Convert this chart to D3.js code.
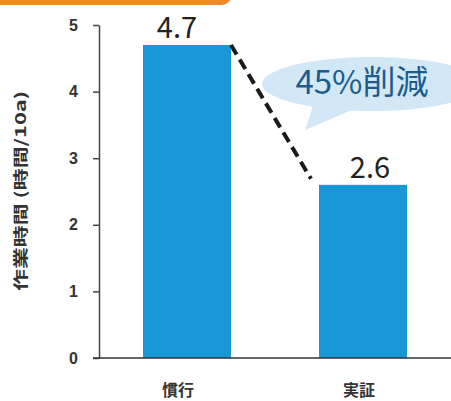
<!DOCTYPE html>
<html>
<head>
<meta charset="utf-8">
<script src="https://cdn.jsdelivr.net/npm/d3@7"></script>
<style>
  html, body { margin: 0; padding: 0; background: #fff; }
  svg { display: block; }
</style>
</head>
<body>
<svg id="chart" width="451" height="401"></svg>
<script>
// Work hours per 10a: conventional vs. demonstration
const categories = ["慣行", "実証"];
const values = [4.7, 2.6];
const valueLabels = ["4.7", "2.6"];
const yTicks = [0, 1, 2, 3, 4, 5];
const yTitle = "作業時間 (時間/10a)";
const calloutText = "45%削減";

const svg = d3.select("#chart");
const W = 451, H = 401;

const x = d3.scaleBand()
  .domain(categories)
  .range([99, 451])
  .paddingInner(0.5)
  .paddingOuter(0.25);

const y = d3.scaleLinear()
  .domain([0, 5])
  .range([358, 25]);

// orange header strip at the top
svg.append("path")
  .attr("d", "M0,-20 H232 V-6 A11,11 0 0 1 221,5 H0 Z")
  .attr("fill", "#f28a2b");

// bars
svg.append("g").selectAll("rect")
  .data(values)
  .join("rect")
  .attr("x", (d, i) => x(categories[i]))
  .attr("y", d => y(d))
  .attr("width", x.bandwidth())
  .attr("height", d => y(0) - y(d))
  .attr("fill", "#1a98d5");

// value labels
const nudge = [-10, 7];
svg.append("g").selectAll("text")
  .data(values)
  .join("text")
  .attr("x", (d, i) => x(categories[i]) + x.bandwidth() / 2 + nudge[i])
  .attr("y", d => y(d) - 7)
  .attr("text-anchor", "middle")
  .attr("font-family", "'Noto Sans CJK JP', 'Noto Sans', sans-serif")
  .attr("font-size", 29)
  .attr("fill", "#222")
  .text((d, i) => valueLabels[i]);

// y axis
const yAxis = svg.append("g")
  .attr("transform", "translate(99,0)")
  .call(d3.axisLeft(y).tickValues(yTicks).tickFormat(d3.format("d")).tickSize(6).tickSizeOuter(0).tickPadding(15));
yAxis.select(".domain").attr("stroke", "#444").attr("stroke-width", 1.5);
yAxis.selectAll(".tick line").attr("stroke", "#444").attr("stroke-width", 1.5);
yAxis.selectAll(".tick text")
  .attr("font-family", "'Liberation Sans', Arial, sans-serif")
  .attr("font-weight", "bold")
  .attr("font-size", 16)
  .attr("fill", "#333");

// baseline
svg.append("line")
  .attr("x1", 93).attr("x2", W)
  .attr("y1", y(0)).attr("y2", y(0))
  .attr("stroke", "#333").attr("stroke-width", 1.6);

// category labels
const catNudge = [-9, -4];
svg.append("g").selectAll("text")
  .data(categories)
  .join("text")
  .attr("x", (d, i) => x(d) + x.bandwidth() / 2 + catNudge[i])
  .attr("y", 396)
  .attr("text-anchor", "middle")
  .attr("font-family", "'Noto Sans CJK JP', sans-serif")
  .attr("font-weight", "bold")
  .attr("font-size", 16)
  .attr("fill", "#333")
  .text(d => d);

// y axis title (glyphs stretched along the text direction)
svg.append("text")
  .attr("transform", "translate(26,191) rotate(-90)")
  .attr("text-anchor", "middle")
  .attr("font-family", "'Noto Sans CJK JP', sans-serif")
  .attr("font-weight", "bold")
  .attr("font-size", 15)
  .attr("fill", "#333")
  .attr("textLength", 200)
  .attr("lengthAdjust", "spacingAndGlyphs")
  .text(yTitle);

// dashed trend line between bar tops
svg.append("line")
  .attr("x1", x(categories[0]) + x.bandwidth())
  .attr("y1", y(values[0]))
  .attr("x2", x(categories[1]) - 8)
  .attr("y2", y(values[1]) - 6)
  .attr("stroke", "#1a1a1a")
  .attr("stroke-width", 4)
  .attr("stroke-dasharray", "11,6");

// speech bubble
const bubble = svg.append("g");
bubble.append("path")
  .attr("d", "M313,106 L305,130 L352,110 Z")
  .attr("fill", "#d2e8f6");
bubble.append("ellipse")
  .attr("cx", 372).attr("cy", 84)
  .attr("rx", 110).attr("ry", 27)
  .attr("fill", "#d2e8f6");
bubble.append("text")
  .attr("x", 362).attr("y", 94)
  .attr("text-anchor", "middle")
  .attr("font-family", "'Noto Sans CJK JP', sans-serif")
  .attr("font-size", 33)
  .attr("fill", "#1c5b8e")
  .text(calloutText);
</script>
</body>
</html>
